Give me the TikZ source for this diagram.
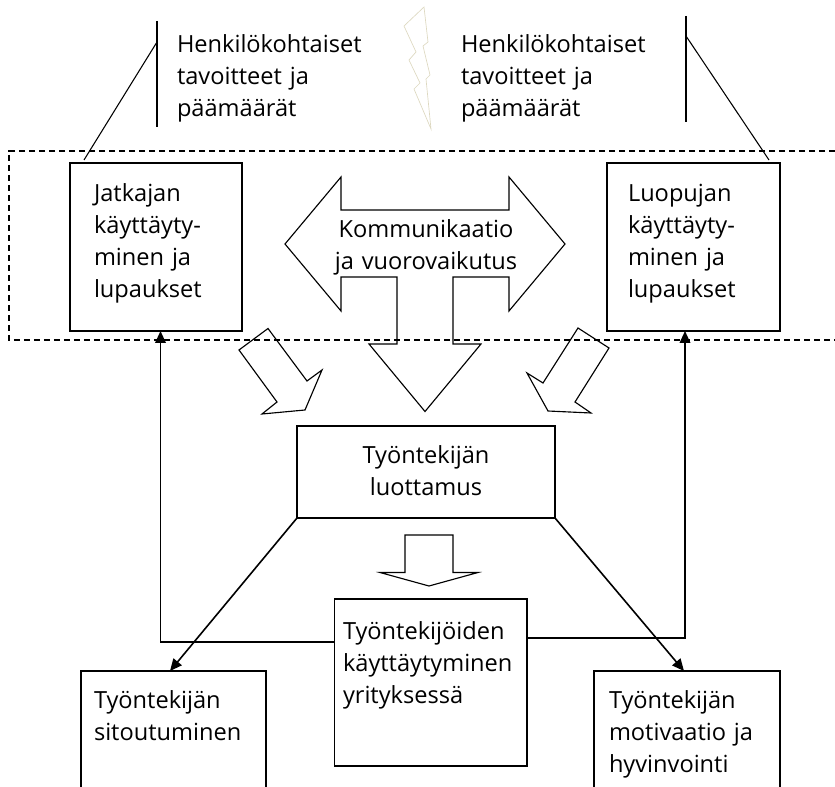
\documentclass[tikz,border=0pt]{standalone}
\usepackage{fontspec}
\setmainfont{Open Sans}
\usetikzlibrary{arrows.meta,calc}
\tikzset{
  x=0.75pt,y=-0.75pt,
  ln/.style={draw=black,line width=0.8pt},
  boxn/.style={draw=black,line width=0.85pt,rectangle,inner sep=0pt,outer sep=0pt,anchor=north west},
  blockarrow/.style={draw=black,line width=0.85pt,line join=miter},
  conn/.style={draw=black,line width=1.2pt},
  tip/.style={-{Triangle[length=9pt,width=8pt]}},
  txt/.style={inner sep=0pt,outer sep=0pt,anchor=base west,align=left,text width=#1*0.75pt,
     font=\fontsize{17.7pt}{24pt}\selectfont},
  ctxt/.style={inner sep=0pt,outer sep=0pt,anchor=base,align=center,text width=#1*0.75pt,
     font=\fontsize{17.7pt}{24pt}\selectfont},
}
\begin{document}
\begin{tikzpicture}
\clip (0,0) rectangle (835,787);
% boxes
\node[boxn,minimum width=172*0.75pt,minimum height=168*0.75pt] (jatkaja) at (70,163) {};
\node[boxn,minimum width=173*0.75pt,minimum height=168*0.75pt] (luopuja) at (607,163) {};
\node[boxn,minimum width=258*0.75pt,minimum height=92*0.75pt] (luottamus) at (297,426) {};
\node[boxn,minimum width=192.5*0.75pt,minimum height=167*0.75pt] (kaytos) at (334.5,599) {};
\node[boxn,minimum width=185*0.75pt,minimum height=140*0.75pt] (sitout) at (81,671) {};
\node[boxn,minimum width=186*0.75pt,minimum height=140*0.75pt] (motiv) at (594,671) {};
% top goal brackets
\coordinate (ltop) at (157,21);
\coordinate (lbot) at (157,127);
\coordinate (ljoin) at (157,42);
\coordinate (lfoot) at (84,160);
\coordinate (rtop) at (686,16);
\coordinate (rbot) at (686,122);
\coordinate (rjoin) at (686,36);
\coordinate (rfoot) at (769,160);
\draw[ln] (ltop) -- (lbot);
\draw[ln] (ljoin) -- (lfoot);
\draw[ln] (rtop) -- (rbot);
\draw[ln] (rjoin) -- (rfoot);
% lightning
\draw[color={rgb,255:red,221;green,216;blue,192},line width=0.5pt,line join=miter]
  (424,7) -- (404,26) -- (416,52) -- (409,60) -- (420,83) -- (414,89) -- (431,129)
  -- (426,79) -- (430,75) -- (423,46) -- (428,42) -- cycle;
% block arrows
\draw[blockarrow] (285,244) -- (341,177) -- (341,210) -- (509,210) -- (509,177) -- (565,244)
  -- (509,311) -- (509,277) -- (453,277) -- (453,344) -- (481,344) -- (425,411.5)
  -- (369,344) -- (397,344) -- (397,277) -- (341,277) -- (341,311) -- cycle;
\draw[blockarrow] (268,328.5) -- (239,350) -- (277,402) -- (262,414) -- (305,410)
  -- (322,370) -- (307,381) -- cycle;
\draw[blockarrow] (578,328) -- (609,348) -- (575,402) -- (591,413) -- (548,411)
  -- (527,373) -- (543,383) -- cycle;
\draw[blockarrow] (405,535) -- (453,535) -- (453,572.5) -- (478,572.5) -- (429,586)
  -- (380,572.5) -- (405,572.5) -- cycle;
% dashed region
\draw[black,line width=0.8pt,dash pattern=on 4.6pt off 2.9pt]
  (835,151) -- (9,151) -- (9,340) -- (835,340);
% connectors
\coordinate (lstart) at (334.5,642);
\coordinate (lcol) at (160.5,0);
\coordinate (rstart) at (527,638);
\coordinate (rcol) at (685,0);
\coordinate (sitx) at (170,0);
\coordinate (motx) at (684,0);
\draw[conn,tip] (lstart) -| (lcol |- jatkaja.south);
\draw[conn,tip] (rstart) -| (rcol |- luopuja.south);
\draw[conn,tip] (luottamus.south west) -- (sitx |- sitout.north);
\draw[conn,tip] (luottamus.south east) -- (motx |- motiv.north);
\draw[conn] (lstart) -- (334.5,672);
\draw[conn] (rstart) -- (527,695);
% texts
\node[txt=200] (t1) at (177,53) {Henkilökohtaiset\\tavoitteet ja\\päämäärät};
\node[txt=200] (t2) at (461,53) {Henkilökohtaiset\\tavoitteet ja\\päämäärät};
\node[txt=140] (t3) at (94,201.5) {Jatkajan\\käyttäyty-\\minen ja\\lupaukset};
\node[txt=140] (t4) at (628,201.5) {Luopujan\\käyttäyty-\\minen ja\\lupaukset};
\node[ctxt=220] (t5) at (426,238) {Kommunikaatio\\ja vuorovaikutus};
\node[ctxt=220] (t6) at (426,464) {Työntekijän\\luottamus};
\node[txt=185] (t7) at (343,639) {Työntekijöiden\\käyttäytyminen\\yrityksessä};
\node[txt=170] (t8) at (94,708) {Työntekijän\\sitoutuminen};
\node[txt=170] (t9) at (609,708) {Työntekijän\\motivaatio ja\\hyvinvointi};
\end{tikzpicture}
\end{document}
